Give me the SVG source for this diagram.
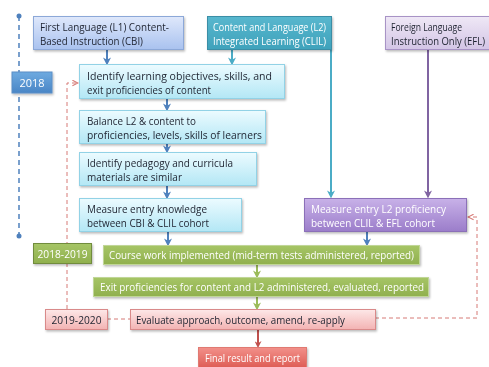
<svg xmlns="http://www.w3.org/2000/svg" width="489" height="367" viewBox="0 0 489 367">
<style>
text{font-family:"Open Sans","Liberation Sans",sans-serif;font-size:11.5px}
.dk{fill:#1e2330}
.wt{fill:#ffffff}
.box{filter:url(#sh)}
.ar{fill:none;stroke-width:2}
.rd{fill:none;stroke:#d67a76;stroke-width:1;stroke-dasharray:4 3}
</style>
<defs>
<filter id="sh" x="-10%" y="-20%" width="120%" height="150%"><feDropShadow dx="1" dy="1.5" stdDeviation="1" flood-color="#000" flood-opacity="0.28"/></filter>
<linearGradient id="gCyan" x1="0" y1="0" x2="0" y2="1"><stop offset="0" stop-color="#ecfbff"/><stop offset="1" stop-color="#b3e7f5"/></linearGradient>
<linearGradient id="gBlue1" x1="0" y1="0" x2="0" y2="1"><stop offset="0" stop-color="#dfe8fb"/><stop offset="1" stop-color="#a9c2ef"/></linearGradient>
<linearGradient id="gTeal" x1="0" y1="0" x2="0" y2="1"><stop offset="0" stop-color="#58b7ce"/><stop offset="1" stop-color="#3fa2bb"/></linearGradient>
<linearGradient id="gLav" x1="0" y1="0" x2="0" y2="1"><stop offset="0" stop-color="#efe8f6"/><stop offset="1" stop-color="#d3c5e6"/></linearGradient>
<linearGradient id="gPur" x1="0" y1="0" x2="0" y2="1"><stop offset="0" stop-color="#c8b1e8"/><stop offset="1" stop-color="#9b7dca"/></linearGradient>
<linearGradient id="gGreen" x1="0" y1="0" x2="0" y2="1"><stop offset="0" stop-color="#a6c566"/><stop offset="1" stop-color="#90b04e"/></linearGradient>
<linearGradient id="gPink" x1="0" y1="0" x2="0" y2="1"><stop offset="0" stop-color="#fde8e8"/><stop offset="1" stop-color="#f3b3b3"/></linearGradient>
<linearGradient id="gRed" x1="0" y1="0" x2="0" y2="1"><stop offset="0" stop-color="#f2908a"/><stop offset="1" stop-color="#dc5850"/></linearGradient>
<linearGradient id="gYear" x1="0" y1="0" x2="0" y2="1"><stop offset="0" stop-color="#6eaae0"/><stop offset="1" stop-color="#4a86c6"/></linearGradient>
<marker id="mBlue" viewBox="0 0 10 10" refX="7" refY="5" markerWidth="4" markerHeight="4" orient="auto" markerUnits="strokeWidth"><path d="M0,0 L10,5 L0,10 L3,5 Z" fill="#4f81bd"/></marker>
<marker id="mTeal" viewBox="0 0 10 10" refX="7" refY="5" markerWidth="4" markerHeight="4" orient="auto" markerUnits="strokeWidth"><path d="M0,0 L10,5 L0,10 L3,5 Z" fill="#4bacc6"/></marker>
<marker id="mPur" viewBox="0 0 10 10" refX="7" refY="5" markerWidth="4" markerHeight="4" orient="auto" markerUnits="strokeWidth"><path d="M0,0 L10,5 L0,10 L3,5 Z" fill="#8064a2"/></marker>
<marker id="mGreen" viewBox="0 0 10 10" refX="7" refY="5" markerWidth="4" markerHeight="4" orient="auto" markerUnits="strokeWidth"><path d="M0,0 L10,5 L0,10 L3,5 Z" fill="#9bbb59"/></marker>
<marker id="mRed" viewBox="0 0 10 10" refX="7" refY="5" markerWidth="3.5" markerHeight="3.5" orient="auto" markerUnits="strokeWidth"><path d="M0,0 L10,5 L0,10 L3,5 Z" fill="#c0504d"/></marker>
<marker id="mRdash" viewBox="0 0 10 10" refX="9" refY="5" markerWidth="7" markerHeight="7" orient="auto" markerUnits="userSpaceOnUse"><path d="M1,1 L9,5 L1,9" fill="none" stroke="#d67a76" stroke-width="1.5"/></marker>
</defs>

<g id="timeline">
<line x1="19" y1="16" x2="19" y2="236" stroke="#4f81bd" stroke-width="1.5" stroke-dasharray="5 4"/>
<circle cx="19" cy="16" r="2.5" fill="#4f81bd"/>
<circle cx="19" cy="236" r="2.5" fill="#4f81bd"/>
</g>

<g id="connectors">
<path class="rd" d="M67,309 V83 H78" marker-end="url(#mRdash)"/>
<path class="rd" d="M107,319 H130"/>
<path class="rd" d="M375,318 H477 V217 H468" marker-end="url(#mRdash)"/>
<path class="ar" stroke="#4f81bd" d="M107,49 V63" marker-end="url(#mBlue)"/>
<path class="ar" stroke="#4bacc6" d="M232,49 V63" marker-end="url(#mTeal)"/>
<path class="ar" stroke="#4bacc6" d="M331,49 V196" marker-end="url(#mTeal)"/>
<path class="ar" stroke="#8064a2" d="M428,49 V196" marker-end="url(#mPur)"/>
<path class="ar" stroke="#4f81bd" d="M167,99 V109" marker-end="url(#mBlue)"/>
<path class="ar" stroke="#4f81bd" d="M167,144 V151" marker-end="url(#mBlue)"/>
<path class="ar" stroke="#4f81bd" d="M167,186 V197" marker-end="url(#mBlue)"/>
<path class="ar" stroke="#4f81bd" d="M168,232 V244" marker-end="url(#mBlue)"/>
<path class="ar" stroke="#4f81bd" d="M367,232 V244" marker-end="url(#mBlue)"/>
<path class="ar" stroke="#9bbb59" d="M257,264 V276" marker-end="url(#mGreen)"/>
<path class="ar" stroke="#9bbb59" d="M257,296 V308" marker-end="url(#mGreen)"/>
<path class="ar" stroke="#c0504d" stroke-width="3" d="M258,330 V346" marker-end="url(#mRed)"/>
</g>

<g id="year2018" class="box">
<rect x="12" y="72" width="40" height="21" fill="url(#gYear)" stroke="#5a8ec6" stroke-width="1"/>
<text class="wt" x="32" y="87" text-anchor="middle" textLength="25" lengthAdjust="spacingAndGlyphs">2018</text>
</g>

<g id="cbi" class="box">
<rect x="33.5" y="16.5" width="150" height="33" fill="url(#gBlue1)" stroke="#8ca8d8"/>
<text class="dk" x="40" y="31" textLength="129" lengthAdjust="spacingAndGlyphs">First Language (L1) Content-</text>
<text class="dk" x="40" y="45" textLength="103" lengthAdjust="spacingAndGlyphs">Based Instruction (CBI)</text>
</g>

<g id="clil" class="box">
<rect x="207.5" y="16.5" width="124" height="33" fill="url(#gTeal)" stroke="#3a8ea6"/>
<text class="wt" x="213" y="31" textLength="113" lengthAdjust="spacingAndGlyphs">Content and Language (L2)</text>
<text class="wt" x="213" y="45" textLength="113" lengthAdjust="spacingAndGlyphs">Integrated Learning (CLIL)</text>
</g>

<g id="efl" class="box">
<rect x="385.5" y="16.5" width="104" height="33" fill="url(#gLav)" stroke="#a893c6"/>
<text class="dk" x="391" y="31" textLength="71" lengthAdjust="spacingAndGlyphs">Foreign Language</text>
<text class="dk" x="391" y="45" textLength="94" lengthAdjust="spacingAndGlyphs">Instruction Only (EFL)</text>
</g>

<g id="identify" class="box">
<rect x="79.5" y="64.5" width="205" height="34" fill="url(#gCyan)" stroke="#92d2e6"/>
<text class="dk" x="87" y="80" textLength="185" lengthAdjust="spacingAndGlyphs">Identify learning objectives, skills, and</text>
<text class="dk" x="87" y="94" textLength="124" lengthAdjust="spacingAndGlyphs">exit proficiencies of content</text>
</g>

<g id="balance" class="box">
<rect x="79.5" y="110.5" width="186" height="33" fill="url(#gCyan)" stroke="#92d2e6"/>
<text class="dk" x="87" y="125" textLength="109" lengthAdjust="spacingAndGlyphs">Balance L2 &amp; content to</text>
<text class="dk" x="87" y="139" textLength="175" lengthAdjust="spacingAndGlyphs">proficiencies, levels, skills of learners</text>
</g>

<g id="pedagogy" class="box">
<rect x="79.5" y="152.5" width="177" height="33" fill="url(#gCyan)" stroke="#92d2e6"/>
<text class="dk" x="87" y="167" textLength="146" lengthAdjust="spacingAndGlyphs">Identify pedagogy and curricula</text>
<text class="dk" x="87" y="181" textLength="95" lengthAdjust="spacingAndGlyphs">materials are similar</text>
</g>

<g id="measure" class="box">
<rect x="79.5" y="198.5" width="162" height="33" fill="url(#gCyan)" stroke="#92d2e6"/>
<text class="dk" x="87" y="213" textLength="120" lengthAdjust="spacingAndGlyphs">Measure entry knowledge</text>
<text class="dk" x="87" y="227" textLength="122" lengthAdjust="spacingAndGlyphs">between CBI &amp; CLIL cohort</text>
</g>

<g id="measureL2" class="box">
<rect x="304.5" y="198.5" width="162" height="33" fill="url(#gPur)" stroke="#8b6fb8"/>
<text class="wt" x="311" y="213" textLength="135" lengthAdjust="spacingAndGlyphs">Measure entry L2 proficiency</text>
<text class="wt" x="311" y="227" textLength="124" lengthAdjust="spacingAndGlyphs">between CLIL &amp; EFL cohort</text>
</g>

<g id="year1819" class="box">
<rect x="33.5" y="243.5" width="58" height="20" fill="url(#gGreen)" stroke="#718c3c"/>
<text class="wt" x="62.5" y="258" text-anchor="middle" textLength="50" lengthAdjust="spacingAndGlyphs">2018-2019</text>
</g>

<g id="coursework" class="box">
<rect x="103.5" y="245.5" width="316" height="19" fill="url(#gGreen)" stroke="#c0d697"/>
<text class="wt" x="109" y="259" textLength="305" lengthAdjust="spacingAndGlyphs">Course work implemented (mid-term tests administered, reported)</text>
</g>

<g id="exit" class="box">
<rect x="93.5" y="277.5" width="335" height="19" fill="url(#gGreen)" stroke="#c0d697"/>
<text class="wt" x="100" y="291" textLength="324" lengthAdjust="spacingAndGlyphs">Exit proficiencies for content and L2 administered, evaluated, reported</text>
</g>

<g id="year1920" class="box">
<rect x="45.5" y="309.5" width="62" height="20" fill="url(#gPink)" stroke="#d98a8a"/>
<text class="dk" x="76.5" y="324" text-anchor="middle" textLength="50" lengthAdjust="spacingAndGlyphs">2019-2020</text>
</g>

<g id="evaluate" class="box">
<rect x="130.5" y="309.5" width="245" height="20" fill="url(#gPink)" stroke="#d98a8a"/>
<text class="dk" x="136" y="324" textLength="209" lengthAdjust="spacingAndGlyphs">Evaluate approach, outcome, amend, re-apply</text>
</g>

<g id="final" class="box">
<rect x="198.5" y="347.5" width="108" height="22" fill="url(#gRed)" stroke="#e07a72"/>
<text class="wt" x="205" y="362" font-size="12.5" textLength="95" lengthAdjust="spacingAndGlyphs">Final result and report</text>
</g>
</svg>
